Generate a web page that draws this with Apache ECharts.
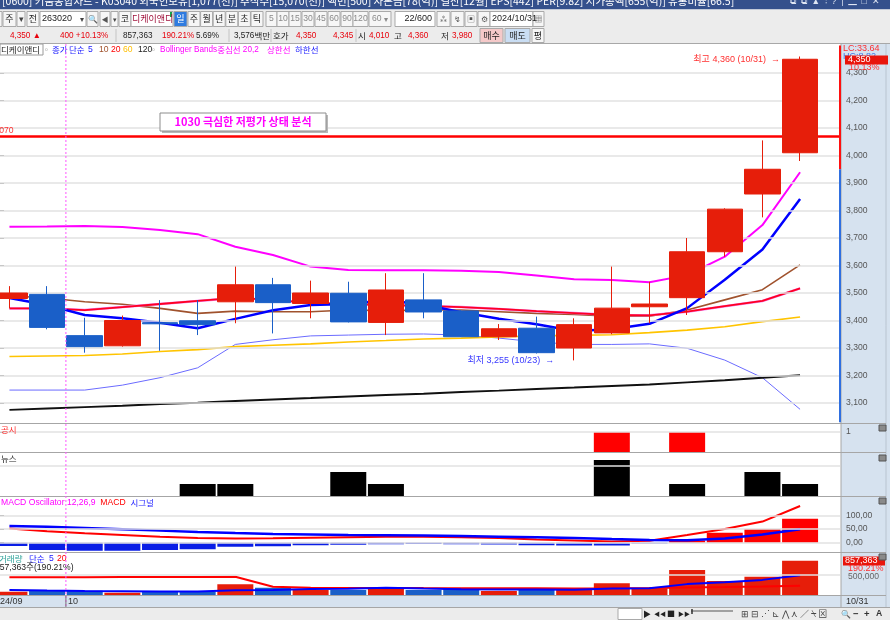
<!DOCTYPE html>
<html><head><meta charset="utf-8">
<script src="https://cdn.jsdelivr.net/npm/echarts@6/dist/echarts.min.js"></script>
<style>html,body{margin:0;padding:0;background:#fff;overflow:hidden}#c{width:890px;height:620px}</style>
</head><body><div id="c"></div><script>
// ---------------- data ----------------
const dates = ['09/27','09/30','10/02','10/04','10/07','10/08','10/10','10/11','10/14','10/15','10/16','10/17','10/18','10/21','10/22','10/23','10/24','10/25','10/28','10/29','10/30','10/31'];
const openP  = [3480,3495,3345,3308,3392,3399,3468,3530,3462,3499,3393,3475,3435,3341,3372,3300,3355,3450,3483,3650,3860,4010];
const closeP = [3500,3375,3305,3400,3388,3385,3530,3465,3500,3395,3511,3431,3341,3370,3283,3385,3445,3460,3650,3805,3950,4350];
const lowP   = [3445,3368,3283,3305,3290,3347,3390,3353,3408,3393,3347,3408,3340,3329,3280,3255,3350,3390,3420,3632,3775,3980];
const highP  = [3525,3525,3410,3418,3474,3474,3596,3555,3545,3541,3572,3572,3437,3387,3414,3408,3596,3541,3700,3808,4055,4360];
const ma5    = [3482,3456,3420,3408,3392,3372,3406,3437,3456,3460,3474,3458,3430,3406,3386,3362,3368,3388,3445,3548,3658,3842];
const ma10   = [3490,3482,3468,3459,3444,3426,3434,3432,3432,3438,3436,3438,3438,3432,3426,3422,3416,3416,3438,3475,3512,3602];
const ma20   = [3444,3444,3438,3449,3460,3471,3482,3475,3464,3460,3456,3453,3449,3442,3434,3427,3420,3419,3432,3452,3471,3517];
const ma60   = [3269,3271,3273,3278,3287,3294,3305,3310,3315,3322,3327,3333,3336,3340,3344,3346,3348,3356,3365,3377,3396,3413];
const ma120  = [3075,3080,3085,3090,3096,3101,3107,3113,3118,3124,3129,3134,3140,3145,3151,3156,3162,3167,3175,3183,3192,3201];
const bbUpper= [3741,3742,3744,3740,3729,3714,3668,3638,3596,3584,3583,3583,3581,3576,3564,3550,3547,3539,3565,3632,3747,3939];
const bbLower= [3147,3147,3147,3165,3192,3228,3313,3330,3344,3347,3350,3351,3347,3336,3322,3313,3313,3315,3299,3256,3192,3077];
const gongsi = [0,0,0,0,0,0,0,0,0,0,0,0,0,0,0,0,1,0,1,0,0,0];
const news   = [0,0,0,0,0,1,1,0,0,2,1,0,0,0,0,0,3,0,1,0,2,1];
const macd   = [52,42,34,28,22,17,15,16,18,20,22,22,20,17,12,8,4,7,28,50,77,134];
const signal = [61,58,54,49,44,39,35,32,30,28,27,26,24,22,20,17,13,10,9,15,30,49];
const macdOsc= [-12,-27,-29,-29,-27,-24,-15,-13,-9,-8,-6,-5,-6,-7,-9,-10,-10,-3,8,36,50,87];
const volume = [83000,108000,108000,58000,83000,83000,267000,183000,125000,125000,200000,125000,150000,100000,125000,150000,292000,167000,625000,350000,458000,857363];
const volMa5 = [125000,110000,100000,95000,88000,88000,120000,125000,150000,155000,180000,160000,145000,140000,135000,130000,163000,167000,272000,317000,378000,491000];
const volMa20= [442000,444000,446000,448000,450000,452000,458000,208000,183000,178000,175000,172000,170000,168000,166000,165000,167000,172000,190000,200000,215000,233000];
const priceTicks = [3100,3200,3300,3400,3500,3600,3700,3800,3900,4000,4100,4200,4300];
const resistance = 4070;
const gongsiTicks = [1];
const newsTicks = [2.5];
const macdTicks = [0,50,100];
const volTicks = [500000];

// ---------------- fonts ----------------
const mc=document.createElement('canvas').getContext('2d');
mc.font="10px 'Liberation Sans Narrow', monospace"; const wn=mc.measureText('0123456789abcdef').width;
mc.font="10px monospace"; const wm=mc.measureText('0123456789abcdef').width;
const HAS_NARROW = Math.abs(wn-wm)>0.5;
const FONT = HAS_NARROW ? "'Liberation Sans Narrow','Noto Sans CJK KR',sans-serif" : "'Liberation Sans','Noto Sans CJK KR',sans-serif";
const FS = HAS_NARROW ? 1 : 0.86;
const KFONT = "'Noto Sans CJK KR','Liberation Sans',sans-serif";

// ---------------- layout ----------------
const BAND = 37.65, DL = -9.4;
const DR = 890 - (DL + BAND * dates.length);
const FRR = 50;
const UP = '#e61e0a', DOWN = '#1a5fc8';
const panels = [
  {key:'main', top:45.5, height:376.75, min:3030, max:4400, ticks:priceTicks, fmt:v=>v.toLocaleString('en-US')},
  {key:'gong', top:424, height:28, min:0, max:1.4, ticks:gongsiTicks, fmt:v=>String(v)},
  {key:'news', top:453, height:43, min:0, max:3.583, ticks:newsTicks, fmt:()=>''},
  {key:'macd', top:497, height:55, min:-34, max:166.7, ticks:macdTicks, fmt:v=>v.toFixed(2).replace('.',',')},
  {key:'vol',  top:553, height:42, min:0, max:1050000, ticks:volTicks, fmt:()=>''}
];
const grid=[], xAxis=[], yAxis=[], series=[];
panels.forEach((p,i)=>{
  grid.push({left:DL, right:DR, top:p.top, height:p.height, containLabel:false, outerBoundsMode:'none'});
  grid.push({left:0, right:FRR, top:p.top, height:p.height, containLabel:false, outerBoundsMode:'none'});
  xAxis.push({type:'category', gridIndex:2*i, data:dates, show:false, boundaryGap:true});
  xAxis.push({type:'value', gridIndex:2*i+1, min:0, max:1, show:false});
  yAxis.push({type:'value', gridIndex:2*i, min:p.min, max:p.max, show:false});
  yAxis.push({type:'value', gridIndex:2*i+1, min:p.min, max:p.max, position:'right',
    axisLine:{show:false}, splitLine:{show:false},
    axisTick:{show:p.key!=='news'&&p.key!=='vol', customValues:p.ticks, length:4, lineStyle:{color:'#777'}},
    axisLabel:{customValues:p.ticks, formatter:p.fmt, color:'#555', fontSize:10*FS, fontFamily:FONT, margin:6}});
  series.push({type:'line', xAxisIndex:2*i+1, yAxisIndex:2*i+1, data:[], silent:true, z:0,
    markLine:{symbol:'none', silent:true, animation:false, label:{show:false},
      lineStyle:{color:'#e2e2e2', width:1.5, type:'solid'},
      data:p.ticks.map(v=>({yAxis:v}))}});
});
series.push({type:'line', xAxisIndex:1, yAxisIndex:1, data:[], silent:true, z:6,
  markLine:{symbol:'none', silent:true, animation:false, label:{show:false},
    lineStyle:{color:'#ff0000', width:2.5, type:'solid'}, data:[{yAxis:resistance}]}});

function line(data, color, width, xi, z){
  return {type:'line', xAxisIndex:xi, yAxisIndex:xi, data, symbol:'none', z:z||3,
    lineStyle:{color, width}, silent:true, animation:false};
}
series.push(line(bbLower,'#6b6bff',1,0));
series.push(line(ma120,'#111111',2,0));
series.push(line(ma60,'#ffc400',1.6,0));
series.push(line(bbUpper,'#ff00ff',2,0));
series.push(line(ma10,'#a0522d',1.6,0));
series.push(line(ma20,'#f080f0',2.5,0));
series.push(line(ma20,'#ff0022',1.8,0));
series.push(line(ma5,'#0000ff',2.5,0));
series.push({type:'candlestick', xAxisIndex:0, yAxisIndex:0, z:5, barWidth:36, animation:false,
  data:dates.map((d,i)=>[openP[i],closeP[i],lowP[i],highP[i]]),
  itemStyle:{color:UP, color0:DOWN, borderColor:UP, borderColor0:DOWN, borderWidth:1}});
series.push({type:'bar', xAxisIndex:2, yAxisIndex:2, barWidth:36, data:gongsi, itemStyle:{color:'#ff0000'}, animation:false});
series.push({type:'bar', xAxisIndex:4, yAxisIndex:4, barWidth:36, data:news, itemStyle:{color:'#000000'}, animation:false});
series.push({type:'bar', xAxisIndex:6, yAxisIndex:6, barWidth:36, animation:false,
  data:macdOsc.map(v=>({value:v, itemStyle:{color:v>=0?'#ff0000':'#0a1ee6'}}))});
series.push(line(macd,'#ff0000',2,6,4));
series.push(line(signal,'#0000ff',2.5,6,4));
series.push({type:'bar', xAxisIndex:8, yAxisIndex:8, barWidth:36, animation:false,
  data:volume.map((v,i)=>({value:v, itemStyle:{color:closeP[i]>=openP[i]?UP:DOWN}}))});
series.push(line(volMa20,'#ff0000',2,8,4));
series.push(line(volMa5,'#0000ff',2,8,4));

const chart = echarts.init(document.getElementById('c'));
chart.setOption({animation:false, grid, xAxis, yAxis, series});

// ---------------- chrome / annotations ----------------
const G=[];
function fontOf(size,o){o=o||{};const f=o.font||FONT;const s=(f===FONT)?size*FS:size;return (o.bold?'bold ':'')+s+'px '+f;}
function T(x,y,text,fill,size,o){o=o||{};
  G.push({type:'text',x,y,z:o.z||50,silent:true,
  style:{text,fill,font:fontOf(size,o),textAlign:o.align||'left',textVerticalAlign:'middle'}});}
// place text parts one after another
function seq(x,y,parts,gap){parts.forEach(p=>{const o={font:p[3]};T(x,y,p[0],p[1],p[2],o);mc.font=fontOf(p[2],o);x+=mc.measureText(p[0]).width+(gap||0);});}
function Rc(x,y,w,h,fill,stroke,z){G.push({type:'rect',z:z===undefined?40:z,silent:true,shape:{x,y,width:w,height:h},
  style:{fill:fill||'none',stroke:stroke||'none',lineWidth:1}});}
function Ln(x1,y1,x2,y2,stroke,w,dash,z){G.push({type:'line',z:z===undefined?45:z,silent:true,shape:{x1,y1,x2,y2},
  style:{stroke,lineWidth:w||1,lineDash:dash||null}});}

// title bar
Rc(0,0,890,9.5,'#34508c',null,40);
T(2,1.5,'[0600] 키움종합차트 - K03040 외국인보유[1,077(천)] 주식수[15,070(천)] 액면[500] 자본금[78(억)] 결산[12월] EPS[442] PER[9.82] 시가총액[655(억)] 유통비율[66.5]','#ffffff',10.5,{font:KFONT});
T(790,2,'⧉  ⧉  ▲  ⫶  ?  |  ▁  □  ✕','#dfe6f3',10);
// toolbar rows
Rc(0,9.5,890,34,'#ececec',null,40);
Ln(0,43.5,890,43.5,'#a8a8a8',1);
const btn=(x,w,txt,col,bg,fs)=>{Rc(x,11.5,w,15,bg||'#f6f6f6','#a9a9a9',41);T(x+w/2,19,txt,col||'#222',fs||9,{align:'center',font:KFONT});};
Rc(-3,11.5,5,15,'#f6f6f6','#a9a9a9',41);
btn(3,13,'주'); btn(17,8,'▾','#444');
btn(27,12,'전');
Rc(40,11.5,46,15,'#ffffff','#a9a9a9',41); T(42,19,'263020','#222',10.5); T(80,19,'▾','#444',8,{font:KFONT});
btn(87,11,'🔍','#555',null,8); btn(100,10,'◀','#555',null,7); btn(111,7,'▾','#444',null,7);
btn(119,12,'코');
Rc(131,11.5,42,15,'#ffffff','#a9a9a9',41); T(132,19,'디케이앤디','#a0103a',9,{font:KFONT}); Rc(170,12,2,5,'#19a34a',null,42);
btn(174,13,'일','#ffffff','#2e7be0');
['주','월','년','분','초','틱'].forEach((s,i)=>btn(188+i*12.6,12,s));
[['5',266,11],['10',277,12],['15',289,12],['30',302,12],['45',315,12],['60',328,12],['90',341,12],['120',353,15]].forEach(a=>{Rc(a[1],11.5,a[2],15,'#f6f6f6','#a9a9a9',41);T(a[1]+a[2]/2,19,a[0],'#8a8a8a',10,{align:'center'});});
Rc(369,11.5,22,15,'#f6f6f6','#a9a9a9',41); T(372,19,'60','#8a8a8a',10); T(384,19,'▾','#8a8a8a',8,{font:KFONT});
Rc(395,11.5,40,15,'#ffffff','#a9a9a9',41); T(432,19,'22/600','#222',10.5,{align:'right'});
btn(437,13,'⁂','#555',null,8); btn(451,13,'↯','#555',null,8); btn(465,12,'▣','#555',null,8); btn(478,12,'⚙','#555',null,8);
Rc(490,11.5,43,15,'#ffffff','#a9a9a9',41); T(492,19,'2024/10/31','#222',10.5);
btn(533,11,'▦','#555',null,8);
// info row
const info=[[10,'4,350 ▲','#e8000b'],[60,'400 +10.13%','#e8000b'],[123,'857,363','#222'],[162,'190.21%','#e8000b'],[196,'5.69%','#222'],
  [296,'4,350','#e8000b'],[333,'4,345','#e8000b'],[369,'4,010','#e8000b'],
  [408,'4,360','#e8000b'],[452,'3,980','#e8000b']];
info.forEach(a=>T(a[0],35.5,a[1],a[2],9.5));
seq(234,35.5,[['3,576','#222',9.5],['백만','#222',8.5,KFONT]]);
[[273,'호가'],[358,'시'],[394,'고'],[441,'저']].forEach(a=>T(a[0],35.5,a[1],'#222',8.5,{font:KFONT}));
[116,229,271,356].forEach(x=>Ln(x,29,x,42,'#c4c4c4',1));
Rc(480,28.5,23,14,'#f5c9c9','#a9a9a9',41); T(491.5,35.5,'매수','#222',9,{align:'center',font:KFONT});
Rc(505,28.5,25,14,'#c9ddf3','#a9a9a9',41); T(517.5,35.5,'매도','#222',9,{align:'center',font:KFONT});
Rc(532,28.5,12,14,'#f6f6f6','#a9a9a9',41); T(538,35.5,'평','#222',9,{align:'center',font:KFONT});

// legend row
Rc(0,44,43,11,'#ffffff','#9a9a9a',41);
T(1,49.5,'디케이앤디','#222',8.5,{font:KFONT});
T(45,49.5,'▫','#777',9); T(52,49.5,'종가','#2020ff',8.5,{font:KFONT});
T(69,49.5,'단순','#2020ff',8.5,{font:KFONT}); T(88,49.5,'5','#2020ff',10);
T(99,49.5,'10','#a0522d',10); T(111,49.5,'20','#ff0000',10);
T(123,49.5,'60','#ffbf00',10); T(138,49.5,'120','#222',10); T(152,49.5,'▫','#777',9);
seq(160,49.5,[['Bollinger Bands','#ff00ff',9.5],['중심선','#ff00ff',8.5,KFONT],[' 20,2','#ff00ff',9.5]]);
T(267,49.5,'상한선','#ff00ff',8.5,{font:KFONT}); T(295,49.5,'하한선','#2020ff',8.5,{font:KFONT});

// right axis panel & frames
Rc(841,43.5,49,565,'#d6e2ef',null,-1);
Ln(886,43.5,886,608,'#b9c4d0',1,null,1);
[423.5,452.5,496.5,552.5,595.5].forEach(y=>Ln(0,y,886,y,'#a6a6a6',1,null,1));
Rc(0,595.5,890,12.5,'#d6e2ef',null,-1);
Ln(0,607.5,890,607.5,'#a6a6a6',1,null,1);
Ln(841,43.5,841,608,'#a6a6a6',1,null,1);
// bottom strip
Rc(0,608,890,12,'#ececec',null,40);
Rc(618,608.5,24,11,'#ffffff','#a9a9a9',41);
T(643,614,'▶','#222',8,{font:KFONT}); T(654,614,'◀◀','#222',6,{font:KFONT}); T(667,614,'■','#222',8,{font:KFONT}); T(678,614,'▶▶','#222',6,{font:KFONT});
Ln(691,611,733,611,'#555',1); Ln(692,609,692,614,'#333',1.5);
T(741,614,'⊞ ⊟ ⋰ ⊾ ⋀ ⋏ ∕ ⍀ ⊠','#444',9,{font:KFONT});
T(841,614,'🔍','#333',8,{font:KFONT}); T(853,614,'−','#333',11,{bold:true}); T(864,614,'+','#333',11,{bold:true}); T(876,614,'A','#333',10,{bold:true});

// panel titles
T(1,429.5,'공시','#ff3030',8.5,{font:KFONT});
T(1,458.5,'뉴스','#222',8.5,{font:KFONT});
seq(1,502.5,[['MACD Oscillator 12,26,9','#ff00ff',10],['  MACD','#ff0000',10],['  ','#000',10],['시그널','#2020ff',8.5,KFONT]]);
T(-1,558.5,'거래량','#2aa198',8.5,{font:KFONT}); T(29,558.5,'단순','#2020ff',8.5,{font:KFONT}); T(49,558.5,'5','#2020ff',10); T(57,558.5,'20','#ff0000',10);
T(-5,567.5,'857,363주(190.21%)','#222',10);
// right labels
T(843,48.5,'LC:33.64','#ff3030',10.5);
T(843,57,'HC:8.82','#3d7be8',10.5);
Rc(845,55.5,43,9,'#e8150c',null,60); T(848,60,'4,350','#ffffff',10.5,{z:61});
T(849,68,'10.13%','#ff3030',10.5,{z:61});
Rc(843,556.5,42,9,'#e8150c',null,60); T(845,561,'857,363','#ffffff',10.5,{z:61});
T(848,569,'190.21%','#ff3030',10.5,{z:61});
T(848,576.5,'500,000','#666',10,{z:59});
T(846,601.5,'10/31','#333',10.5);
[428,458,501,557].forEach(y=>{Rc(879,y-3,7,6,'#8a8a8a','#555',62);});
// annotation box
Rc(162,115,166,18,'#b8b8b8',null,47);
Rc(160,113,166,18,'#ffffff','#8c8c8c',48);
T(243,122,'1030 극심한 저평가 상태 분석','#ff00ff',11,{bold:true,align:'center',font:KFONT,z:49});
T(-8,130.5,'4,070','#ff3030',10);

function finish(){
  const E=[];
  const px=(gi,i,v)=>chart.convertToPixel({gridIndex:gi},[i,v]);
  const a=px(0,1,3500)[0], b=px(0,2,3500)[0], mx=(a+b)/2;
  const lf=(10.5*FS)+'px '+FONT;
  E.push({type:'line',z:58,silent:true,shape:{x1:mx,y1:44,x2:mx,y2:607},style:{stroke:'#ff55ff',lineWidth:1,lineDash:[2,2]}});
  E.push({type:'line',z:58,silent:true,shape:{x1:mx,y1:596,x2:mx,y2:607},style:{stroke:'#777',lineWidth:1}});
  E.push({type:'text',x:mx+2,y:601.5,z:58,silent:true,style:{text:dates[2].slice(0,2),fill:'#333',font:lf,textVerticalAlign:'middle'}});
  E.push({type:'text',x:0,y:601.5,z:58,silent:true,style:{text:'24/'+dates[0].slice(0,2),fill:'#333',font:lf,textVerticalAlign:'middle'}});
  const hi=highP.indexOf(Math.max(...highP)), lo=lowP.indexOf(Math.min(...lowP));
  const ph=px(0,hi,highP[hi]), pl=px(0,lo,lowP[lo]);
  E.push({type:'text',x:ph[0]-20,y:ph[1]+3.5,z:58,silent:true,style:{text:'최고 '+highP[hi].toLocaleString('en-US')+' ('+dates[hi]+')  →',fill:'#ff3030',font:lf,textAlign:'right',textVerticalAlign:'middle'}});
  E.push({type:'text',x:pl[0]-20,y:pl[1],z:58,silent:true,style:{text:'최저 '+lowP[lo].toLocaleString('en-US')+' ('+dates[lo]+')  →',fill:'#3a3aff',font:lf,textAlign:'right',textVerticalAlign:'middle'}});
  const prev = px(1,0,closeP[closeP.length-2])[1], topY=px(1,0,4400)[1], botY=px(1,0,3030)[1];
  E.push({type:'line',z:58,silent:true,shape:{x1:840,y1:topY,x2:840,y2:prev},style:{stroke:'#ff1010',lineWidth:2}});
  E.push({type:'line',z:58,silent:true,shape:{x1:840,y1:prev,x2:840,y2:botY},style:{stroke:'#2f6fe0',lineWidth:2}});
  chart.setOption({graphic:G.concat(E)});
}
finish();
</script></body></html>
